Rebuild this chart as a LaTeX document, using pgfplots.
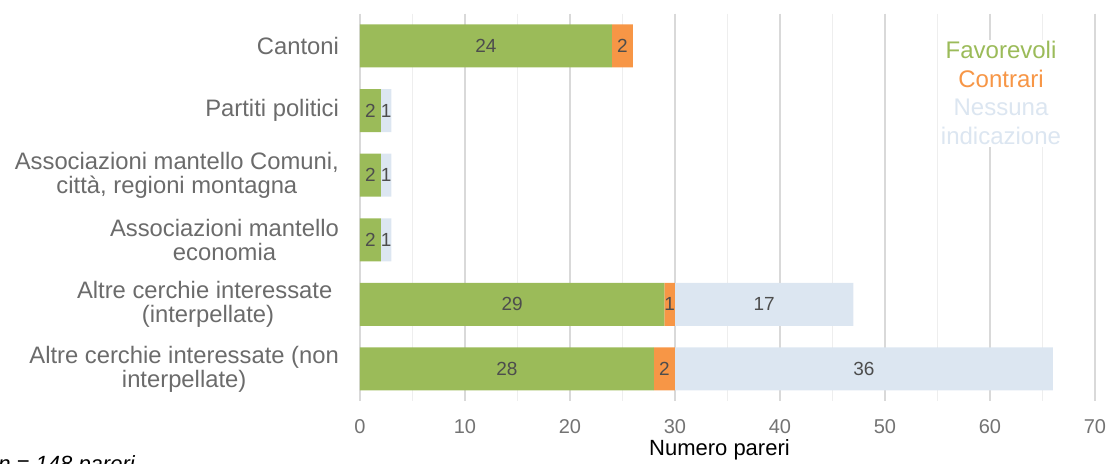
\documentclass[border=0pt]{standalone}
\usepackage{pgfplots}
\pgfplotsset{compat=1.18}
\usepackage{pgfplotstable}
\usepackage{fontspec}
\setmainfont{Liberation Sans}
\definecolor{cfav}{HTML}{9BBB59}
\definecolor{ccon}{HTML}{F79646}
\definecolor{cnes}{HTML}{DCE6F1}
\definecolor{clab}{HTML}{4D4D4D}
\definecolor{ccat}{HTML}{6B6B6B}
\definecolor{ctick}{HTML}{737373}
\definecolor{gmaj}{HTML}{D9D9D9}
\definecolor{gmin}{HTML}{EEEEEE}
\pgfplotstableread{
y fav con nes
0 24 2 0
1 2 0 1
2 2 0 1
3 2 0 1
4 29 1 17
5 28 2 36
}\data
\pgfplotsset{
  lbl/.style={
    point meta=explicit,
    nodes near coords={\pgfmathfloatifflags{\pgfplotspointmeta}{0}{}{\pgfmathprintnumber{\pgfplotspointmeta}}},
  }
}
\begin{document}
\begin{tikzpicture}
\useasboundingbox (0,0) rectangle (555pt,232pt);
\begin{axis}[
  at={(180pt,31.35pt)}, anchor=south west,
  scale only axis, width=367.5pt, height=193.8pt,
  /pgf/number format/assume math mode=true,
  xbar stacked, bar width=21.5pt,
  every node near coord/.style={anchor=center,
      font=\fontsize{9.5}{11}\selectfont, text=clab, inner sep=0pt},
  xmin=0, xmax=70, ymin=-0.5, ymax=5.5, y dir=reverse,
  xtick={0,10,...,70}, minor x tick num=1,
  ytick={0,...,5},
  yticklabels={Cantoni, Partiti politici, {Associazioni mantello Comuni,\\città, regioni montagna}, {Associazioni mantello\\economia}, {Altre cerchie interessate\hspace*{0.278em}\\(interpellate)}, {Altre cerchie interessate (non\\interpellate)}},
  xmajorgrids, xminorgrids,
  major grid style={gmaj, line width=0.8pt},
  minor grid style={gmin, line width=0.8pt},
  axis line style={draw=none},
  major tick length=0pt, minor tick length=0pt,
  xticklabel style={font=\fontsize{10}{12}\selectfont, text=ctick, yshift=-5.7pt},
  yticklabel style={font=\fontsize{11.9}{12}\selectfont, text=ccat, align=center, xshift=-7pt},
  xlabel={Numero pareri},
  xlabel style={font=\fontsize{11}{13}\selectfont, text=black, at={(axis description cs:0.5,0)}, anchor=center, yshift=-24.35pt, xshift=-4pt},
  clip=false,
]
\addplot[fill=cfav, draw=none, lbl=fav] table[x=fav, y=y, meta=fav] {\data};
\addplot[fill=ccon, draw=none, lbl=con] table[x=con, y=y, meta=con] {\data};
\addplot[fill=cnes, draw=none, lbl=nes] table[x=nes, y=y, meta=nes] {\data};
\node[fill=white, inner sep=1pt, align=center, font=\fontsize{12}{14.25}\selectfont] at (axis cs:61.05,0.73)
  {\textcolor{cfav}{Favorevoli}\\\textcolor{ccon}{Contrari}\\\textcolor{cnes}{Nessuna}\\\textcolor{cnes}{indicazione}};
\end{axis}
\node[anchor=base west, font=\fontsize{11}{13}\selectfont\itshape, inner sep=0pt] at (-1pt,-4pt) {n = 148 pareri};
\end{tikzpicture}
\end{document}
